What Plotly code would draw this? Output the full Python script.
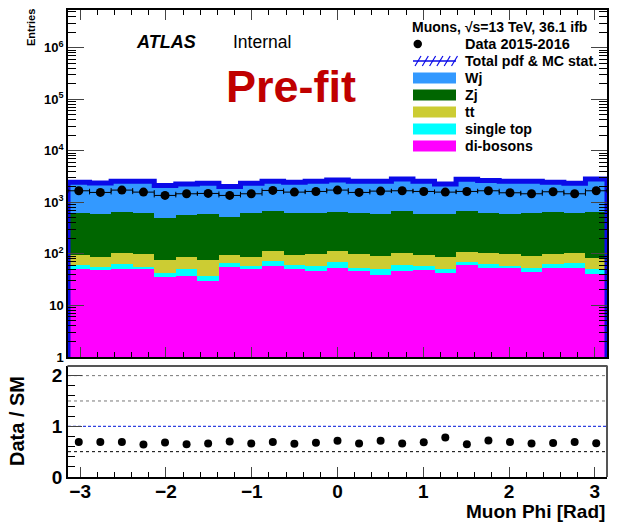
import numpy as np
import plotly.graph_objects as go

W, H = 617, 524

# Binning in muon phi
n_bins = 25
edges = np.linspace(-np.pi, np.pi, n_bins + 1)
centers = 0.5 * (edges[:-1] + edges[1:])
bin_w = edges[1] - edges[0]

# Stacked pre-fit MC contributions per bin (events)
dibosons = [50.5, 48.2, 52.0, 49.8, 35.8, 36.9, 29.9, 56.0, 49.8, 58.5, 51.2, 46.8, 54.3,
            46.1, 38.6, 46.1, 48.2, 42.8, 60.3, 54.3, 54.3, 44.1, 53.5, 54.3, 41.6]
single_top = [9.8, 7.8, 11.1, 6.2, 7.0, 12.9, 7.0, 10.9, 9.6, 13.7, 11.0, 10.9, 14.7,
              8.2, 11.9, 14.2, 10.3, 8.4, 10.8, 10.7, 5.1, 10.2, 10.5, 11.7, 8.9]
ttbar = [34.0, 31.5, 41.6, 42.7, 32.6, 37.7, 38.5, 30.3, 28.1, 42.3, 32.1, 41.0, 43.8,
         44.4, 39.7, 42.9, 35.8, 36.3, 38.4, 41.3, 39.3, 35.9, 37.6, 38.7, 34.5]
zjets = [532, 494, 531, 509, 426, 477, 515, 427, 521, 551, 532, 527, 523,
         509, 491, 572, 487, 494, 556, 502, 491, 518, 534, 503, 560]
wjets = [1821, 1794, 1921, 1949, 1607, 1707, 1751, 1492, 1733, 1892, 1821, 1931, 2080,
         1949, 1976, 2165, 1976, 1690, 2131, 2027, 1967, 1949, 1811, 1733, 2195]

# Observed data 2015-2016
data = [1675, 1555, 1726, 1578, 1360, 1465, 1487, 1360, 1465, 1700, 1578, 1625, 1726,
        1555, 1650, 1675, 1625, 1578, 1625, 1675, 1531, 1465, 1602, 1465, 1675]
# Data / SM ratio
ratio = [0.693, 0.693, 0.693, 0.641, 0.681, 0.647, 0.660, 0.700, 0.660, 0.693, 0.654, 0.677, 0.713,
         0.660, 0.713, 0.660, 0.687, 0.780, 0.647, 0.720, 0.693, 0.660, 0.673, 0.693, 0.667]

samples = [
    ("di-bosons", dibosons, "#ff00ff"),
    ("single top", single_top, "#00ffff"),
    ("tt", ttbar, "#cccc33"),
    ("Zj", zjets, "#006600"),
    ("Wj", wjets, "#3399ff"),
]
band_color = "#0a0ae8"
total = np.sum([np.array(s[1], dtype=float) for s in samples], axis=0)

FONT = "Liberation Sans"


def px(x):
    return x / W


def py(y):
    return 1 - y / H


fig = go.Figure()

for name, vals, col in samples:
    fig.add_trace(go.Bar(x=centers, y=vals, width=bin_w, name=name,
                         marker=dict(color=col, line=dict(width=0)),
                         xaxis="x", yaxis="y", showlegend=False))

# Total prediction outline (uncertainty band)
step_x = np.concatenate([[edges[0]], edges, [edges[-1]]])
step_y = np.concatenate([[1.0], total, [total[-1]], [1.0]])
fig.add_trace(go.Scatter(x=step_x, y=step_y, mode="lines", line_shape="hv",
                         line=dict(color=band_color, width=5),
                         xaxis="x", yaxis="y", showlegend=False, hoverinfo="skip"))

fig.add_trace(go.Scatter(x=centers, y=data, mode="markers",
                         marker=dict(color="black", size=9),
                         error_x=dict(type="constant", value=bin_w / 2, thickness=1,
                                      width=2, color="black"),
                         xaxis="x", yaxis="y", showlegend=False))

# Ratio panel
fig.add_trace(go.Scatter(x=[edges[0], edges[-1]], y=[1, 1], mode="lines",
                         line=dict(color="#3040e0", width=1.2, dash="3px,2px"),
                         xaxis="x2", yaxis="y2", showlegend=False, hoverinfo="skip"))
fig.add_trace(go.Scatter(x=centers, y=ratio, mode="markers",
                         marker=dict(color="black", size=8),
                         xaxis="x2", yaxis="y2", showlegend=False))

shapes = []
for yv, col in [(0.5, "black"), (1.5, "#777777"), (2.0, "#777777")]:
    shapes.append(dict(type="line", xref="x2", yref="y2", x0=edges[0], x1=edges[-1],
                       y0=yv, y1=yv, line=dict(color=col, width=1, dash="dot"), layer="below"))

# Grey upper/right frame of the ratio panel
shapes.append(dict(type="line", xref="paper", yref="paper", x0=px(67.5), x1=px(607.5),
                   y0=py(366), y1=py(366), line=dict(color="#555555", width=2)))
shapes.append(dict(type="line", xref="paper", yref="paper", x0=px(607), x1=px(607),
                   y0=py(366), y1=py(477), line=dict(color="#555555", width=2)))

# Legend swatches
leg_x0, leg_x1 = 413, 456
leg_rows = [("Wj", "#3399ff", 78), ("Zj", "#006600", 95), ("tt", "#cccc33", 112),
            ("single top", "#00ffff", 129), ("di-bosons", "#ff00ff", 146)]
for _, col, yc in leg_rows:
    shapes.append(dict(type="rect", xref="paper", yref="paper",
                       x0=px(leg_x0), x1=px(leg_x1), y0=py(yc + 5.5), y1=py(yc - 5.5),
                       fillcolor=col, line=dict(width=0)))
# hatched symbol for the total prediction
shapes.append(dict(type="line", xref="paper", yref="paper", x0=px(leg_x0), x1=px(leg_x1),
                   y0=py(61), y1=py(61), line=dict(color=band_color, width=1.5)))
for k in range(6):
    xs = leg_x0 + 2 + k * 7.3
    shapes.append(dict(type="line", xref="paper", yref="paper", x0=px(xs), x1=px(xs + 6),
                       y0=py(66), y1=py(56), line=dict(color=band_color, width=1.2)))
shapes.append(dict(type="circle", xref="paper", yref="paper",
                   x0=px(413.5), x1=px(422), y0=py(48.2), y1=py(39.8),
                   fillcolor="black", line=dict(width=0)))

annotations = []


def text(x, y, s, size, xanchor="left", color="black", bold=True, italic=False, angle=0):
    annotations.append(dict(x=px(x), y=py(y), xref="paper", yref="paper", text=s,
                            showarrow=False, xanchor=xanchor, yanchor="middle",
                            textangle=angle,
                            font=dict(family=FONT, size=size, color=color,
                                      weight="bold" if bold else "normal",
                                      style="italic" if italic else "normal")))


text(589, 27, "Muons, √s=13 TeV, 36.1 ifb", 14, xanchor="right")
text(463, 44, "Data 2015-2016", 14.5)
text(463, 61, "Total pdf & MC stat.", 14.2)
for lab, _, yc in leg_rows:
    text(463, yc, lab, 14.2)

text(134, 42, "ATLAS", 18, bold=True, italic=True)
text(231, 42, "Internal", 17.5, bold=False)
text(291, 86, "Pre-fit", 45, xanchor="center", color="#c00000")
text(31, 28, "Entries", 11, xanchor="center", angle=-90)
text(17, 421, "Data / SM", 20, xanchor="center", angle=-90)
text(607, 511, "Muon Phi [Rad]", 19, xanchor="right")

tickfont_big = dict(family=FONT, size=19, color="black", weight="bold")
tickfont_small = dict(family=FONT, size=13, color="black", weight="bold")

x_dom = [px(68), px(607)]
fig.update_layout(
    template="none",
    width=W, height=H, autosize=False,
    margin=dict(l=0, r=0, t=0, b=0, pad=0),
    paper_bgcolor="white", plot_bgcolor="white",
    barmode="stack", bargap=0,
    showlegend=False,
    shapes=shapes, annotations=annotations,
    xaxis=dict(domain=x_dom, anchor="y", range=[-np.pi, np.pi], showticklabels=False,
               automargin=False,
               ticks="inside", ticklen=10, tickwidth=1, tick0=0, dtick=1,
               minor=dict(ticks="inside", ticklen=5, dtick=0.2, tick0=0, tickcolor="black"),
               showline=True, linecolor="black", linewidth=1.5, mirror="allticks",
               showgrid=False, zeroline=False),
    yaxis=dict(domain=[py(357), py(10)], anchor="x", type="log", range=[0, 6.73],
               automargin=False,
               tickvals=[1, 10, 100, 1e3, 1e4, 1e5, 1e6],
               ticktext=["1", "10", "10<sup>2</sup>", "10<sup>3</sup>", "10<sup>4</sup>",
                         "10<sup>5</sup>", "10<sup>6</sup>"],
               tickfont=tickfont_small, ticks="inside", ticklen=16, tickwidth=1,
               minor=dict(ticks="inside", ticklen=8, dtick="D1", tickcolor="black"),
               showline=True, linecolor="black", linewidth=1.5, mirror="allticks",
               showgrid=False, zeroline=False),
    xaxis2=dict(domain=x_dom, anchor="y2", range=[-np.pi, np.pi], automargin=False,
                tickvals=[-3, -2, -1, 0, 1, 2, 3], tickfont=tickfont_big,
                ticklabelstandoff=-4,
                ticks="inside", ticklen=10, tickwidth=1,
                minor=dict(ticks="inside", ticklen=5, dtick=0.2, tick0=0, tickcolor="black"),
                showline=True, linecolor="black", linewidth=1.5, mirror=False,
                showgrid=False, zeroline=False),
    yaxis2=dict(domain=[py(477), py(366)], anchor="x2", range=[0, 2.19], automargin=False,
                tickvals=[0, 1, 2], tickfont=tickfont_big,
                ticks="inside", ticklen=14, tickwidth=1,
                minor=dict(ticks="inside", ticklen=7, dtick=0.2, tick0=0, tickcolor="black"),
                showline=True, linecolor="black", linewidth=1.5, mirror=False,
                showgrid=False, zeroline=False),
)

fig.write_html("out.html")
